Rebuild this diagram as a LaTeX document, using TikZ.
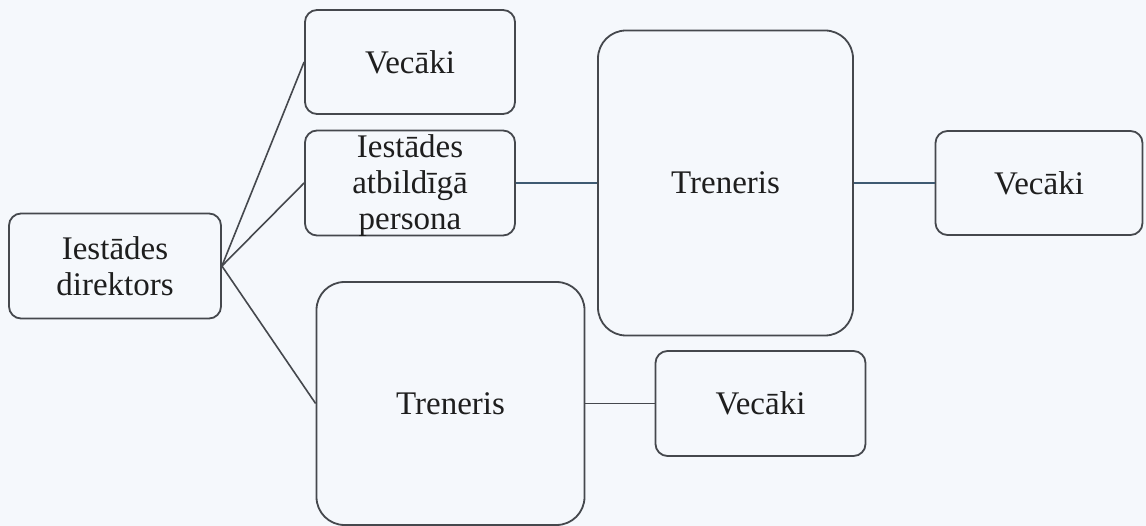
\documentclass[tikz,border=0pt]{standalone}
\usepackage{fontspec}
\setmainfont{Liberation Serif}
\definecolor{bgc}{HTML}{F5F8FC}
\definecolor{boxline}{HTML}{45484D}
\definecolor{conn}{HTML}{3E5A72}
\definecolor{txt}{HTML}{1E1E1E}
\tikzset{
  orgbox/.style={draw=boxline, line width=1.8pt, fill=bgc, rounded corners=12pt,
    inner sep=0pt, align=center, text=txt,
    font=\fontsize{33}{36}\selectfont},
  bigbox/.style={orgbox, rounded corners=28pt},
  link/.style={draw=boxline, line width=1.6pt},
  hlink/.style={draw=conn, line width=1.8pt}
}
\begin{document}
\begin{tikzpicture}[x=1pt,y=-1pt]
\fill[bgc] (0,0) rectangle (1146,526);
\useasboundingbox (0,0) rectangle (1146,526);
% nodes
\node[orgbox, minimum width=212pt, minimum height=105pt] (dir) at (115,266) {Iestādes\\direktors};
\node[orgbox, minimum width=210pt, minimum height=104pt] (vec1) at (410,62) {Vecāki};
\node[orgbox, minimum width=210pt, minimum height=105pt] (atb) at (410,183) {};
\node[align=center, text=txt, inner sep=0pt, font=\fontsize{33}{36}\selectfont] (atbt) at (410,186) {Iestādes\\atbildīgā\\persona};
\node[bigbox, minimum width=255pt, minimum height=305pt] (tr1) at (725.5,183) {Treneris};
\node[orgbox, minimum width=207pt, minimum height=104pt] (vec2) at (1039,183) {Vecāki};
\node[bigbox, minimum width=268pt, minimum height=243pt] (tr2) at (450.5,403.5) {Treneris};
\node[orgbox, minimum width=210pt, minimum height=105pt] (vec3) at (760.5,403.5) {Vecāki};
% connectors
\draw[link] (dir.east) -- (vec1.west);
\draw[link] (dir.east) -- (atb.west);
\draw[link] (dir.east) -- (tr2.west);
\draw[hlink] (atb.east) -- (tr1.west);
\draw[hlink] (tr1.east) -- (vec2.west);
\draw[link] (tr2.east) -- (vec3.west);
\end{tikzpicture}
\end{document}
